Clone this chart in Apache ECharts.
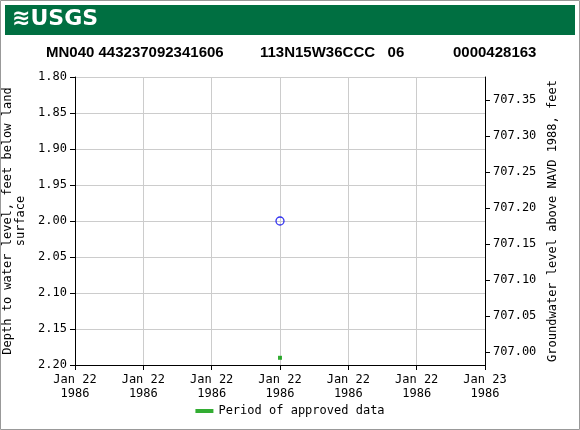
<!DOCTYPE html><html><head><meta charset="utf-8">
<script src="https://cdn.jsdelivr.net/npm/echarts@6/dist/echarts.min.js"></script>
<style>html,body{margin:0;padding:0;background:#fff}#c{width:580px;height:430px}</style></head><body><div id="c"></div><script>
const xTickHours=[0,4,8,12,16,20,24];
const xTickLabels=['Jan 22\n1986','Jan 22\n1986','Jan 22\n1986','Jan 22\n1986','Jan 22\n1986','Jan 22\n1986','Jan 23\n1986'];
const depthPoints=[[12,2.00]];
const approvedPoints=[[12,2.19]];
const rightTicks=[707.00,707.05,707.10,707.15,707.20,707.25,707.30,707.35];
const datumOffset=709.182;
const mono='DejaVu Sans Mono';
const ch=echarts.init(document.getElementById('c'));
ch.setOption({
 animation:false,
 graphic:[
  {type:'rect',shape:{x:0.5,y:0.5,width:579,height:429},style:{fill:'none',stroke:'#999',lineWidth:1}},
  {type:'rect',shape:{x:5,y:5,width:570,height:30},style:{fill:'#006f41'}},
  {type:'text',left:12,top:8,style:{text:'≋USGS',fill:'#fff',font:'bold 22px "DejaVu Sans"'}},
  {type:'text',left:46,top:45,style:{text:'MN040 443237092341606',fill:'#000',font:'bold 15px "Liberation Sans"'}},
  {type:'text',left:260,top:45,style:{text:'113N15W36CCC   06',fill:'#000',font:'bold 15px "Liberation Sans"'}},
  {type:'text',left:453,top:45,style:{text:'0000428163',fill:'#000',font:'bold 15px "Liberation Sans"'}}
 ],
 grid:{left:75,right:95,top:77,bottom:65,outerBoundsMode:'none'},
 xAxis:{type:'value',min:0,max:24,interval:4,
  axisLine:{lineStyle:{color:'#000'}},axisTick:{show:true,lineStyle:{color:'#000'}},
  splitLine:{show:true,lineStyle:{color:'#ccc'}},
  axisLabel:{color:'#000',fontFamily:mono,fontSize:12,lineHeight:14,formatter:v=>xTickLabels[xTickHours.indexOf(v)]}},
 yAxis:[
  {type:'value',inverse:true,min:1.80,max:2.20,interval:0.05,
   name:'Depth to water level, feet below land\nsurface',nameLocation:'middle',nameGap:47,
   nameTextStyle:{fontFamily:mono,fontSize:12,color:'#000',lineHeight:13},
   axisLine:{show:true,lineStyle:{color:'#000'}},axisTick:{show:true,lineStyle:{color:'#000'}},
   splitLine:{lineStyle:{color:'#ccc'}},
   axisLabel:{color:'#000',fontFamily:mono,fontSize:12,formatter:v=>v.toFixed(2)}},
  {type:'value',min:datumOffset-2.20,max:datumOffset-1.80,position:'right',
   name:'Groundwater level above NAVD 1988, feet',nameLocation:'middle',nameGap:62,nameRotate:90,
   nameTextStyle:{fontFamily:mono,fontSize:12,color:'#000'},
   axisLine:{show:true,lineStyle:{color:'#000'}},
   axisTick:{show:true,customValues:rightTicks,lineStyle:{color:'#000'}},
   splitLine:{show:false},
   axisLabel:{color:'#000',fontFamily:mono,fontSize:12,customValues:rightTicks,formatter:v=>v.toFixed(2)}}
 ],
 legend:{bottom:8,left:'center',itemWidth:18,itemHeight:4,icon:'rect',
  textStyle:{fontFamily:mono,fontSize:12,color:'#000'},data:['Period of approved data']},
 series:[
  {type:'scatter',data:depthPoints,symbol:'circle',symbolSize:8,
   itemStyle:{color:'none',borderColor:'#0000ee',borderWidth:1.3}},
  {name:'Period of approved data',type:'scatter',data:approvedPoints,symbol:'rect',symbolSize:4,
   itemStyle:{color:'#009900'}}
 ]
});
</script></body></html>
